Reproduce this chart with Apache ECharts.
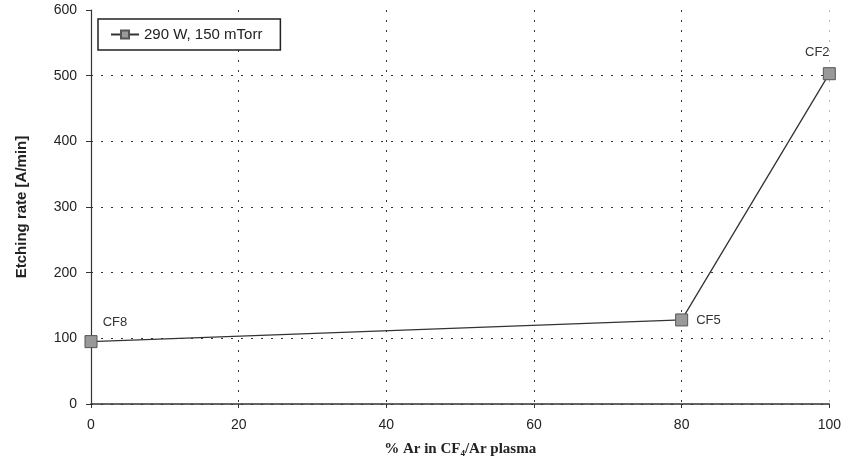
<!DOCTYPE html>
<html>
<head>
<meta charset="utf-8">
<script src="https://cdn.jsdelivr.net/npm/echarts@6/dist/echarts.min.js"></script>
<style>
  html, body { margin: 0; padding: 0; background: #fff; }
  #chart { width: 844px; height: 470px; }
</style>
</head>
<body>
<!-- etching rate vs Ar fraction -->
<div id="chart"></div>
<script>
// data
var arPercent = [0, 80, 100];
var etchRate = [95, 128, 503];
var sampleNames = ['CF8', 'CF5', 'CF2'];
var labelPos = ['top', 'right', 'top'];   // where each sample name sits
var xTicks = [0, 20, 40, 60, 80, 100];
var yTicks = [0, 100, 200, 300, 400, 500, 600];
var seriesName = '290 W, 150 mTorr';

var myChart = echarts.init(document.getElementById('chart'));

var points = arPercent.map(function (x, i) {
  var lbl = { show: true, position: labelPos[i], formatter: sampleNames[i] };
  if (i === 0) lbl.offset = [24, 2];
  if (i === 2) lbl.offset = [-12, 0];
  return { value: [x, etchRate[i]], label: lbl };
});

// split lines: last vertical one lighter, none at the top value
var xGridColors = xTicks.map(function (v, i) { return i === xTicks.length - 1 ? '#bbb' : '#333'; });
var yGridColors = yTicks.map(function (v, i) { return i === yTicks.length - 1 ? 'rgba(0,0,0,0)' : '#333'; });

var option = {
  backgroundColor: '#fff',
  animation: false,
  grid: { left: 91, right: 12, top: 10, bottom: 66 },
  legend: {
    left: 98, top: 19,
    data: [seriesName],
    backgroundColor: '#fff',
    borderColor: '#222', borderWidth: 1.5,
    padding: [8, 18, 8, 12],
    itemWidth: 28, itemHeight: 10,
    textStyle: { fontFamily: 'Arial, Liberation Sans', fontSize: 15, color: '#222' }
  },
  xAxis: {
    type: 'value', min: 0, max: 100, interval: 20,
    name: '% Ar in CF\u2084/Ar plasma',
    nameLocation: 'middle', nameGap: 38,
    nameTextStyle: { fontFamily: 'Liberation Serif, Times New Roman', fontWeight: 'bold', fontSize: 15, color: '#222' },
    axisLine: { show: true, lineStyle: { color: '#333', width: 1.5 } },
    axisTick: { show: true, length: 4, lineStyle: { color: '#333' } },
    axisLabel: { margin: 14, fontFamily: 'Arial, Liberation Sans', fontSize: 14, color: '#222',
      formatter: function (v) { return xTicks.indexOf(v) >= 0 ? String(v) : ''; } },
    splitLine: { show: true, lineStyle: { color: xGridColors, type: [2, 8], width: 1 } }
  },
  yAxis: {
    type: 'value', min: 0, max: 600, interval: 100,
    name: 'Etching rate [A/min]',
    nameLocation: 'middle', nameGap: 62, nameRotate: 90,
    nameTextStyle: { fontFamily: 'Arial, Liberation Sans', fontWeight: 'bold', fontSize: 15, color: '#222' },
    axisLine: { show: true, lineStyle: { color: '#333', width: 1.2 } },
    axisTick: { show: true, length: 5, lineStyle: { color: '#333' } },
    axisLabel: { margin: 14, fontFamily: 'Arial, Liberation Sans', fontSize: 14, color: '#222',
      formatter: function (v) { return yTicks.indexOf(v) >= 0 ? String(v) : ''; } },
    splitLine: { show: true, lineStyle: { color: yGridColors, type: [2, 8], width: 1 } }
  },
  series: [
    {
      name: seriesName,
      type: 'line',
      data: points,
      symbol: 'rect',
      symbolSize: 12,
      lineStyle: { color: '#333', width: 1.3 },
      itemStyle: { color: '#999', borderColor: '#555', borderWidth: 1 },
      label: { fontFamily: 'Arial, Liberation Sans', fontSize: 13, color: '#333', distance: 8 }
    }
  ]
};

myChart.setOption(option);
</script>
</body>
</html>
